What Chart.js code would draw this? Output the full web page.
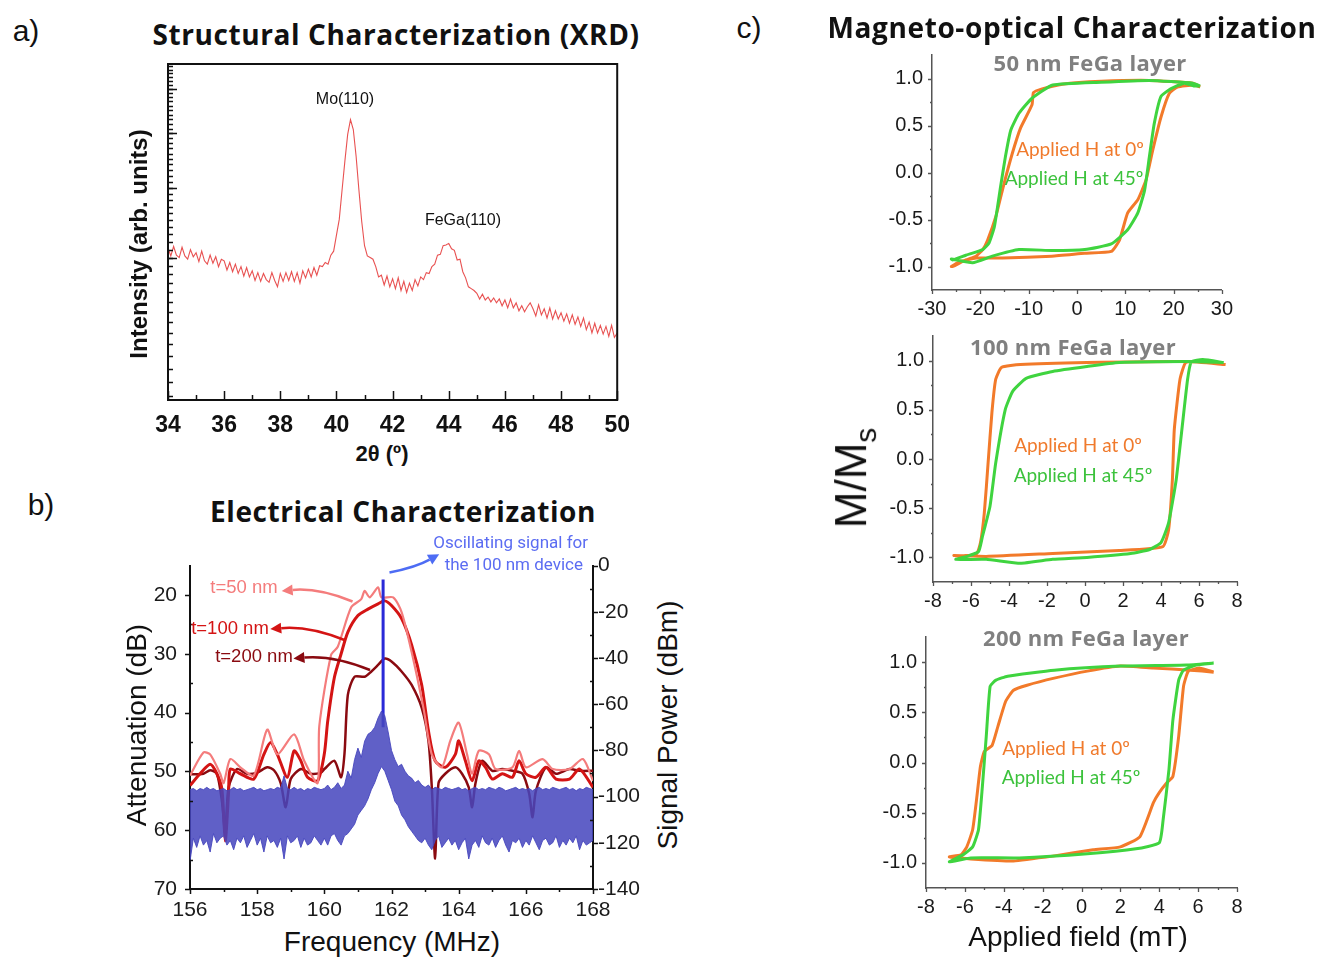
<!DOCTYPE html>
<html>
<head>
<meta charset="utf-8">
<title>FeGa characterization</title>
<script src="https://cdn.jsdelivr.net/npm/chart.js@4.4.1/dist/chart.umd.min.js"></script>
<style>
  body { margin: 0; background: #fff; }
  #fig { position: relative; width: 1320px; height: 957px; overflow: hidden; font-family: "Liberation Sans", Arial, sans-serif; color: #111; }
  #fig canvas { position: absolute; }
  .t { position: absolute; white-space: nowrap; transform: translate(-50%, -50%); line-height: 1; }
  .r { transform: translate(-100%, -50%); }
  .rot { transform: translate(-50%, -50%) rotate(-90deg); }
  .panel { font-size: 30px; }
  .head { font-family: "Open Sans", sans-serif; font-weight: 700; font-size: 28px; letter-spacing: 0.6px; }
  .sub { font-family: "Open Sans", sans-serif; font-weight: 700; font-size: 22px; letter-spacing: 0.3px; color: #808080; }
  .ax { font-size: 28px; }
  .bx { font-size: 22px; font-weight: 700; }
  .ann { font-size: 16px; }
  .tlab { font-size: 18.5px; }
  .narrow { font-family: "Liberation Sans Narrow", "Roboto", sans-serif; font-size: 17px; color: #5b6cf2; }
  .h0 { font-family: "Lato", sans-serif; font-size: 19px; color: #f07a2c; }
  .h45 { font-family: "Lato", sans-serif; font-size: 19px; color: #3cc23c; }
</style>
</head>
<body>
<div id="fig">
  <canvas id="xrd" width="514" height="386" style="left:128px; top:54px"></canvas>
  <canvas id="elec" width="508" height="384" style="left:140px; top:540px"></canvas>
  <canvas id="moke50" width="358" height="286" style="left:882px; top:34px"></canvas>
  <canvas id="moke100" width="369" height="297" style="left:883px; top:315px"></canvas>
  <canvas id="moke200" width="376" height="302" style="left:876px; top:616px"></canvas>

  <div class="t panel" style="left:26px; top:31px">a)</div>
  <div class="t panel" style="left:41px; top:505px">b)</div>
  <div class="t panel" style="left:749px; top:28px">c)</div>

  <div class="t head" style="left:396px; top:34px">Structural Characterization (XRD)</div>
  <div class="t ann" style="left:345px; top:99px">Mo(110)</div>
  <div class="t ann" style="left:463px; top:220px">FeGa(110)</div>
  <div class="t bx" style="left:382px; top:454px">2θ (º)</div>
  <div class="t bx rot" style="left:139px; top:244px; font-size:24px">Intensity (arb. units)</div>

  <div class="t head" style="left:403px; top:511px">Electrical Characterization</div>
  <div class="t narrow r" style="left:588px; top:542px">Oscillating signal for</div>
  <div class="t narrow r" style="left:583px; top:564px">the 100 nm device</div>
  <div class="t tlab" style="left:244px; top:587px; color:#f47c7c">t=50 nm</div>
  <div class="t tlab" style="left:230px; top:628px; color:#d41414">t=100 nm</div>
  <div class="t tlab" style="left:254px; top:656px; color:#8a0a10">t=200 nm</div>
  <div class="t ax rot" style="left:137px; top:725px">Attenuation (dB)</div>
  <div class="t ax rot" style="left:668px; top:725px">Signal Power (dBm)</div>
  <div class="t ax" style="left:392px; top:942px">Frequency (MHz)</div>

  <div class="t head" style="left:1072px; top:27px">Magneto-optical Characterization</div>
  <div class="t sub" style="left:1090px; top:62px">50 nm FeGa layer</div>
  <div class="t sub" style="left:1073px; top:346px">100 nm FeGa layer</div>
  <div class="t sub" style="left:1086px; top:637px">200 nm FeGa layer</div>
  <div class="t h0" style="left:1080px; top:148px">Applied H at 0º</div>
  <div class="t h45" style="left:1074px; top:177px">Applied H at 45º</div>
  <div class="t h0" style="left:1078px; top:444px">Applied H at 0º</div>
  <div class="t h45" style="left:1083px; top:474px">Applied H at 45º</div>
  <div class="t h0" style="left:1066px; top:747px">Applied H at 0º</div>
  <div class="t h45" style="left:1071px; top:776px">Applied H at 45º</div>
  <div class="t rot" style="left:855px; top:478px; font-size:44px">M/M<sub style="font-size:30px">s</sub></div>
  <div class="t ax" style="left:1078px; top:937px">Applied field (mT)</div>
</div>

<script>
// ---- a) XRD scan ----
const XRD_ANGLE_START = 34;
const XRD_ANGLE_STEP = 0.1;
const XRD_COUNTS = [
  31.2, 30.2, 31.4, 30.3, 30.0, 31.3, 30.2, 29.8, 31.0, 30.1,
  30.6, 29.5, 30.8, 29.6, 29.2, 30.3, 29.3, 30.1, 28.9, 29.8,
  29.6, 28.5, 29.4, 28.3, 29.2, 28.1, 28.9, 27.8, 28.8, 27.7,
  28.4, 27.3, 28.2, 27.2, 28.1, 27.4, 27.1, 28.2, 27.3, 26.6,
  28.1, 27.2, 28.2, 27.3, 28.3, 27.2, 28.2, 27.0, 28.4, 27.6,
  28.6, 27.7, 28.8, 27.9, 29.0, 28.9, 29.4, 29.2, 30.3, 30.8,
  32.9, 35.1, 39.6, 44.6, 49.8, 52.9, 50.8, 45.5, 39.6, 34.8,
  31.5, 30.2, 30.0, 29.8, 28.9, 27.7, 27.9, 26.8, 27.8, 26.6,
  27.5, 26.4, 27.6, 26.2, 27.2, 26.0, 27.0, 26.2, 27.4, 26.7,
  27.7, 27.4, 28.2, 28.1, 28.9, 29.2, 30.3, 30.4, 31.5, 31.6,
  31.8, 31.1, 30.9, 29.7, 29.8, 28.3, 27.6, 26.6, 26.4, 26.2,
  25.9, 25.3, 25.8, 25.2, 25.5, 25.0, 25.4, 24.9, 25.3, 24.6,
  25.2, 24.4, 25.3, 24.4, 24.9, 24.1, 24.6, 24.0, 24.5, 24.9,
  24.3, 23.6, 24.7, 23.7, 24.3, 23.4, 24.4, 23.3, 24.1, 23.3,
  23.9, 23.1, 23.8, 22.9, 23.7, 22.8, 23.5, 22.6, 23.4, 22.3,
  23.0, 22.0, 22.9, 22.0, 22.7, 21.9, 22.6, 21.7, 22.7, 21.6,
  22.0
];
const XRD_ANGLE_TICKS = [34, 36, 38, 40, 42, 44, 46, 48, 50];
const XRD_ANGLE_MINOR = [35, 37, 39, 41, 43, 45, 47, 49];

// ---- b) transmission and spectrum ----
const FREQ_TICKS = [156, 158, 160, 162, 164, 166, 168];
const FREQ_MINOR = [157, 159, 161, 163, 165, 167];
const ATT_TICKS = [20, 30, 40, 50, 60, 70];
const ATT_MINOR = [25, 35, 45, 55, 65];
const PWR_TICKS = [0, -20, -40, -60, -80, -100, -120, -140];
const PWR_MINOR = [-10, -30, -50, -70, -90, -110, -130];

const T50_FREQ = [156.0, 156.4, 156.6, 156.9, 157.0, 157.2, 157.5, 157.9, 158.3, 158.6, 159.1, 159.4, 159.8, 159.85, 160.2, 160.4, 160.8, 161.1, 161.2, 161.35, 161.6, 161.7, 162.05, 162.3, 162.6, 162.95, 163.2, 163.5, 163.75, 164.0, 164.25, 164.4, 164.6, 164.9, 165.1, 165.6, 165.8, 166.0, 166.5, 166.8, 167.3, 167.7, 168.0];
const T50_ATT = [50.7, 46.8, 47.1, 50.4, 52.0, 47.9, 49.3, 50.7, 42.9, 47.1, 43.7, 48.2, 52.0, 42.3, 30.2, 28.8, 22.1, 20.7, 19.3, 20.4, 18.7, 20.4, 20.4, 22.9, 29.7, 39.2, 47.1, 49.3, 44.8, 41.7, 47.1, 50.4, 46.5, 47.1, 49.6, 49.3, 46.5, 49.3, 47.9, 49.6, 49.6, 47.9, 51.6];

const T100_FREQ = [156.0, 156.3, 156.6, 156.8, 156.95, 157.05, 157.15, 157.2, 157.5, 157.9, 158.2, 158.4, 158.6, 158.9, 159.1, 159.3, 159.5, 159.8, 160.0, 160.1, 160.3, 160.5, 160.7, 161.0, 161.3, 161.6, 161.8, 162.0, 162.3, 162.6, 162.9, 163.1, 163.3, 163.6, 163.9, 164.0, 164.2, 164.4, 164.6, 164.8, 165.0, 165.3, 165.6, 165.8, 166.0, 166.3, 166.6, 166.9, 167.3, 167.6, 168.0];
const T100_ATT = [52.4, 50.4, 48.8, 50.4, 53.0, 61.8, 53.5, 49.6, 50.4, 51.3, 47.1, 45.1, 47.1, 51.0, 46.5, 48.2, 51.0, 51.6, 47.0, 41.5, 34.0, 30.0, 26.3, 23.5, 22.4, 21.5, 21.0, 21.8, 24.0, 28.5, 35.3, 43.1, 48.2, 49.3, 47.1, 44.8, 48.2, 51.6, 48.2, 49.3, 51.3, 50.4, 51.0, 48.2, 50.4, 51.0, 49.3, 51.3, 51.3, 49.6, 52.7];

const T200_FREQ = [156.0, 156.4, 156.6, 156.8, 156.95, 157.05, 157.15, 157.4, 157.7, 158.0, 158.3, 158.5, 158.7, 158.85, 159.0, 159.3, 159.6, 159.9, 160.0, 160.3, 160.5, 160.6, 160.7, 160.9, 161.2, 161.4, 161.6, 161.8, 162.0, 162.3, 162.6, 162.9, 163.1, 163.2, 163.3, 163.4, 163.6, 163.9, 164.1, 164.3, 164.4, 164.5, 164.7, 165.0, 165.3, 165.6, 165.9, 166.1, 166.2, 166.3, 166.6, 166.9, 167.3, 167.6, 168.0];
const T200_ATT = [50.5, 50.4, 49.8, 50.4, 55.0, 60.5, 52.7, 49.6, 50.4, 50.2, 49.3, 49.8, 52.0, 56.1, 51.3, 49.6, 50.4, 50.2, 49.6, 48.2, 51.0, 47.0, 37.0, 33.9, 33.9, 33.0, 31.9, 30.8, 31.3, 33.0, 35.3, 39.2, 44.8, 52.7, 64.8, 52.0, 50.4, 49.3, 50.4, 52.7, 56.1, 52.0, 48.2, 49.9, 49.6, 49.9, 50.4, 53.8, 57.8, 53.3, 49.3, 50.4, 49.6, 49.9, 49.9];

// spectrum analyser trace, drawn as its upper and lower noise envelopes (dBm)
const SPEC_START = 156;
const SPEC_STEP = 0.1;
const SPEC_TOP = [
  -97, -96.5, -97.5, -96.5, -97, -96, -97, -96.5, -97.5, -97,
  -96.5, -97.5, -97, -96, -97, -96.5, -97.5, -97, -96.5, -96,
  -97, -96.5, -97.5, -97, -96.5, -97, -96, -96.5, -91, -96.5,
  -97, -96, -97, -96.5, -97.5, -96.5, -97, -96, -96.5, -97,
  -96.5, -95, -97, -96, -94, -96.5, -95, -89, -92, -84,
  -79, -83, -76, -73, -72, -70, -66, -63, -65, -72,
  -80, -84, -87, -86, -89, -91, -92, -94, -93, -95,
  -96, -95, -97, -96, -96.5, -97, -96, -96.5, -97, -96.5,
  -96, -97, -96.5, -97.5, -96.5, -96, -97, -96.5, -97, -96,
  -96.5, -97, -96, -96.5, -97.5, -97, -96.5, -96, -97, -96.5,
  -97, -96.5, -97.5, -96.5, -96, -97, -96.5, -97, -96, -96.5,
  -97, -96.5, -96, -97, -96.5, -97.5, -96.5, -97, -96, -96.5,
  -97
];
const SPEC_BOTTOM = [
  -128, -118, -122, -117, -121, -119, -124, -116, -120, -118,
  -117, -121, -119, -123, -118, -120, -117, -122, -119, -116,
  -121, -118, -124, -117, -120, -119, -122, -118, -127, -117,
  -120, -119, -117, -122, -118, -121, -120, -117, -119, -121,
  -118, -121, -117, -116, -119, -121, -117, -116, -114, -112,
  -108, -106, -104, -101, -97, -94, -90, -87, -89, -93,
  -97, -102, -104, -108, -110, -113, -115, -117, -119, -120,
  -118, -121, -123, -119, -117, -122, -120, -118, -121, -119,
  -123, -120, -118, -127, -121, -119, -122, -117, -120, -121,
  -118, -122, -119, -117, -121, -124, -119, -120, -118, -122,
  -119, -121, -117, -120, -123, -119, -118, -121, -120, -117,
  -122, -119, -121, -118, -120, -117, -123, -119, -121, -120,
  -119
];
const OSC_FREQ = 161.75;
const OSC_PWR = [-70, -6];

// ---- c) MOKE loops: [field mT, M/Ms] ----
const M_TICKS = [-1, -0.5, 0, 0.5, 1];
const M_MINOR = [-0.75, -0.25, 0.25, 0.75];
const H_TICKS_WIDE = [-30, -20, -10, 0, 10, 20, 30];
const H_MINOR_WIDE = [-25, -15, -5, 5, 15, 25];
const H_TICKS_NARROW = [-8, -6, -4, -2, 0, 2, 4, 6, 8];
const H_MINOR_NARROW = [-7, -5, -3, -1, 1, 3, 5, 7];

const LOOP50_0DEG = [[25.5,0.91],[24,0.95],[15,0.98],[5,0.97],[-3,0.94],[-7.2,0.89],[-9,0.85],[-9.3,0.72],[-11.7,0.47],[-13.4,0.20],[-15.1,-0.12],[-16.8,-0.47],[-18.5,-0.72],[-19.5,-0.82],[-20.9,-0.89],[-23,-0.93],[-25.7,-1.0],[-26,-1.0],[-24.3,-0.95],[-20.9,-0.91],[-15.4,-0.91],[-5.2,-0.89],[1.6,-0.86],[7.1,-0.84],[8.8,-0.72],[10.5,-0.43],[12.6,-0.29],[14.3,-0.08],[15.7,0.24],[17.4,0.59],[19.1,0.84],[20.8,0.91],[24.2,0.93],[25.5,0.91]];
const LOOP50_45DEG = [[25.5,0.92],[24,0.95],[15,0.98],[5,0.96],[-5,0.93],[-9.3,0.79],[-12,0.63],[-13.7,0.45],[-14.8,0.17],[-15.8,-0.15],[-17.1,-0.58],[-18.2,-0.75],[-19.5,-0.82],[-23,-0.88],[-25.7,-0.93],[-26,-0.92],[-21.6,-0.96],[-17.5,-0.89],[-12,-0.82],[-5.2,-0.83],[1.6,-0.82],[7.1,-0.76],[10.5,-0.61],[12.6,-0.43],[14,-0.19],[15,0.17],[16,0.52],[17.4,0.81],[19.4,0.89],[22.2,0.95],[24.2,0.92],[25.5,0.92]];
const LOOP100_0DEG = [[7.4,0.96],[5.4,0.99],[0.1,0.98],[-3.4,0.96],[-4.4,0.93],[-4.7,0.81],[-4.9,0.47],[-5.1,-0.04],[-5.3,-0.55],[-5.5,-0.85],[-5.7,-0.96],[-6.6,-0.99],[-6.9,-0.98],[-5.2,-0.99],[-1.7,-0.96],[1.8,-0.93],[4.1,-0.89],[4.4,-0.72],[4.6,-0.21],[4.7,0.30],[5.0,0.81],[5.3,0.98],[6.2,0.99],[7.4,0.96]];
const LOOP100_45DEG = [[7.3,0.98],[5.4,0.99],[1.8,0.98],[0.1,0.94],[-1.7,0.89],[-3.1,0.82],[-3.8,0.69],[-4.2,0.50],[-4.7,-0.04],[-5.0,-0.48],[-5.4,-0.79],[-5.6,-0.94],[-6.2,-0.99],[-6.8,-1.02],[-5.2,-1.02],[-3.4,-1.06],[-1.7,-1.02],[0.1,-1.0],[2.4,-0.96],[3.4,-0.92],[4.0,-0.85],[4.4,-0.65],[4.8,-0.21],[5.1,0.30],[5.4,0.81],[5.6,0.99],[6.2,1.01],[7.3,0.98]];
const LOOP200_0DEG = [[6.8,0.90],[5.6,0.92],[3.7,0.94],[2.0,0.96],[0.3,0.91],[-1.4,0.84],[-2.8,0.77],[-3.5,0.72],[-3.9,0.61],[-4.3,0.36],[-4.6,0.17],[-5.0,0.11],[-5.2,-0.04],[-5.4,-0.37],[-5.6,-0.67],[-5.9,-0.84],[-6.2,-0.92],[-6.8,-0.94],[-5.7,-0.96],[-3.5,-0.98],[-1.4,-0.93],[0.6,-0.87],[2.0,-0.84],[3.0,-0.74],[3.7,-0.40],[4.0,-0.30],[4.4,-0.20],[4.7,-0.14],[5.0,0.26],[5.25,0.76],[5.5,0.91],[6.1,0.94],[6.8,0.90]];
const LOOP200_45DEG = [[6.8,0.99],[5.4,0.97],[2.0,0.96],[-1.4,0.92],[-3.8,0.86],[-4.4,0.82],[-4.7,0.76],[-4.9,0.26],[-5.1,-0.24],[-5.3,-0.67],[-5.6,-0.84],[-6.1,-0.92],[-6.8,-0.99],[-5.7,-0.95],[-3.2,-0.95],[0.3,-0.91],[2.8,-0.86],[4.0,-0.80],[4.2,-0.57],[4.5,-0.07],[4.7,0.42],[5.0,0.82],[5.25,0.92],[5.9,0.97],[6.8,0.99]];

const ORANGE = '#f27a2a';
const GREEN = '#3fd43f';

Chart.defaults.font.family = '"Liberation Sans", Arial, sans-serif';
Chart.defaults.color = '#1a1a1a';
Chart.defaults.animation = false;

// short tick marks drawn by hand so major/minor lengths and direction can differ
const tickMarks = {
  id: 'tickMarks',
  afterDraw(chart, args, opts) {
    const ctx = chart.ctx;
    ctx.save();
    ctx.strokeStyle = opts.color || '#111';
    ctx.lineWidth = opts.width || 1.5;
    (opts.sets || []).forEach(set => {
      const s = chart.scales[set.scale];
      ctx.beginPath();
      set.values.forEach(v => {
        const p = Math.round(s.getPixelForValue(v)) + 0.5;
        if (s.isHorizontal()) {
          ctx.moveTo(p, s.top); ctx.lineTo(p, s.top + set.len);
        } else {
          const x = s.position === 'left' ? s.right : s.left;
          ctx.moveTo(x, p); ctx.lineTo(x + set.len, p);
        }
      });
      ctx.stroke();
    });
    ctx.restore();
  }
};

const frameBox = {
  id: 'frameBox',
  afterDraw(chart) {
    const a = chart.chartArea, ctx = chart.ctx;
    ctx.save();
    ctx.strokeStyle = '#111';
    ctx.lineWidth = 2;
    ctx.strokeRect(a.left, a.top, a.right - a.left, a.bottom - a.top);
    ctx.restore();
  }
};

// curved annotation arrows, ends given in data units
const arrows = {
  id: 'arrows',
  afterDatasetsDraw(chart, args, opts) {
    const ctx = chart.ctx, xs = chart.scales.x;
    (opts.items || []).forEach(a => {
      const ys = chart.scales[a.axis];
      const x0 = xs.getPixelForValue(a.from[0]), y0 = ys.getPixelForValue(a.from[1]);
      const x1 = xs.getPixelForValue(a.to[0]), y1 = ys.getPixelForValue(a.to[1]);
      const cx = (x0 + x1) / 2 - (y1 - y0) * a.bend;
      const cy = (y0 + y1) / 2 + (x1 - x0) * a.bend;
      const ang = Math.atan2(y1 - cy, x1 - cx);
      const L = 11, W = 5.5;
      const bx = x1 - Math.cos(ang) * L, by = y1 - Math.sin(ang) * L;
      ctx.save();
      ctx.strokeStyle = a.color; ctx.fillStyle = a.color; ctx.lineWidth = 2.5;
      ctx.beginPath(); ctx.moveTo(x0, y0); ctx.quadraticCurveTo(cx, cy, bx, by); ctx.stroke();
      ctx.beginPath();
      ctx.moveTo(x1, y1);
      ctx.lineTo(bx - Math.sin(ang) * W, by + Math.cos(ang) * W);
      ctx.lineTo(bx + Math.sin(ang) * W, by - Math.cos(ang) * W);
      ctx.closePath(); ctx.fill();
      ctx.restore();
    });
  }
};

const pts = (xs, ys) => xs.map((x, i) => ({ x: x, y: ys[i] }));
const stepped = (start, step, ys) => ys.map((y, i) => ({ x: +(start + i * step).toFixed(2), y: y }));
const pairs = arr => arr.map(p => ({ x: p[0], y: p[1] }));
const fixTicks = list => s => { s.ticks = list.map(v => ({ value: v })); };
const noGrid = { display: false, drawTicks: false };

function drawXrd(el) {
  new Chart(el, {
    type: 'line',
    data: {
      datasets: [{
        data: stepped(XRD_ANGLE_START, XRD_ANGLE_STEP, XRD_COUNTS),
        borderColor: 'rgba(228,50,50,0.85)',
        borderWidth: 1.1,
        pointRadius: 0,
        tension: 0
      }]
    },
    options: {
      responsive: false,
      devicePixelRatio: 1,
      events: [],
      layout: { padding: { top: 10, right: 15 } },
      plugins: {
        legend: { display: false },
        tooltip: { enabled: false },
        tickMarks: {
          width: 1.5,
          sets: [
            { scale: 'x', values: XRD_ANGLE_TICKS, len: -9 },
            { scale: 'x', values: XRD_ANGLE_MINOR, len: -5 },
            { scale: 'y', values: Array.from({ length: 50 }, (_, i) => 17 + i), len: 5 },
            { scale: 'y', values: [30, 40, 50, 60], len: 9 }
          ]
        }
      },
      scales: {
        x: {
          type: 'linear', min: 34, max: 50,
          afterBuildTicks: fixTicks(XRD_ANGLE_TICKS),
          afterFit: s => { s.height = 40; },
          grid: noGrid,
          border: { display: true, color: '#111', width: 2 },
          ticks: { font: { size: 23, weight: 'bold' }, color: '#111', padding: 12, maxRotation: 0 }
        },
        y: {
          type: 'logarithmic', min: 16.7, max: 66.5,
          afterFit: s => { s.width = 40; },
          grid: noGrid,
          border: { display: true, color: '#111', width: 2 },
          ticks: { display: false }
        }
      }
    },
    plugins: [tickMarks, frameBox]
  });
}

function drawElectrical(el) {
  const redLine = (f, a, color, w) => ({
    data: pts(f, a), yAxisID: 'y', borderColor: color, borderWidth: w,
    pointRadius: 0, tension: 0.25, fill: false, order: 1
  });
  new Chart(el, {
    type: 'line',
    data: {
      datasets: [
        { data: stepped(SPEC_START, SPEC_STEP, SPEC_TOP), yAxisID: 'y2', borderColor: 'rgba(70,70,190,0.9)', borderWidth: 1,
          backgroundColor: 'rgba(70,70,190,0.86)', fill: '+1', pointRadius: 0, tension: 0, order: 0 },
        { data: stepped(SPEC_START, SPEC_STEP, SPEC_BOTTOM), yAxisID: 'y2', borderColor: 'rgba(70,70,190,0.9)', borderWidth: 1,
          fill: false, pointRadius: 0, tension: 0, order: 0 },
        { data: OSC_PWR.map(p => ({ x: OSC_FREQ, y: p })), yAxisID: 'y2', borderColor: '#2a2ad8', borderWidth: 3,
          fill: false, pointRadius: 0, order: 0 },
        redLine(T50_FREQ, T50_ATT, '#f47c7c', 2.2),
        redLine(T100_FREQ, T100_ATT, '#d41414', 3),
        redLine(T200_FREQ, T200_ATT, '#8a0a10', 2.5)
      ]
    },
    options: {
      responsive: false,
      devicePixelRatio: 1,
      events: [],
      layout: { padding: { top: 23 } },
      plugins: {
        legend: { display: false },
        tooltip: { enabled: false },
        tickMarks: {
          width: 1.5,
          sets: [
            { scale: 'x', values: FREQ_TICKS, len: 5 },
            { scale: 'x', values: FREQ_MINOR, len: 3 },
            { scale: 'y', values: ATT_TICKS, len: -5 },
            { scale: 'y', values: ATT_MINOR, len: 3 },
            { scale: 'y2', values: PWR_TICKS, len: 5 },
            { scale: 'y2', values: PWR_MINOR, len: -3 }
          ]
        },
        arrows: {
          items: [
            { axis: 'y', from: [160.84, 21.1], to: [158.73, 19.3], color: '#f47c7c', bend: 0.12 },
            { axis: 'y', from: [160.62, 27.7], to: [158.39, 25.8], color: '#d41414', bend: 0.12 },
            { axis: 'y', from: [161.36, 32.75], to: [159.08, 30.8], color: '#8a0a10', bend: 0.12 },
            { axis: 'y2', from: [161.94, -3.0], to: [163.42, 4.9], color: '#4d6cf4', bend: 0.08 }
          ]
        }
      },
      scales: {
        x: {
          type: 'linear', min: 156, max: 168,
          afterBuildTicks: fixTicks(FREQ_TICKS),
          afterFit: s => { s.height = 35; },
          grid: noGrid,
          border: { display: true, color: '#111', width: 2 },
          ticks: { font: { size: 21 }, color: '#1a1a1a', padding: 9, maxRotation: 0 }
        },
        y: {
          position: 'left', reverse: true, min: 15, max: 70,
          afterBuildTicks: fixTicks(ATT_TICKS),
          afterFit: s => { s.width = 50; },
          grid: noGrid,
          border: { display: true, color: '#111', width: 2 },
          ticks: { font: { size: 21 }, color: '#1a1a1a', padding: 13 }
        },
        y2: {
          position: 'right', min: -140, max: 0,
          afterBuildTicks: fixTicks(PWR_TICKS),
          afterFit: s => { s.width = 55; },
          grid: noGrid,
          border: { display: true, color: '#111', width: 2 },
          ticks: { font: { size: 21 }, color: '#1a1a1a', padding: 5 }
        }
      }
    },
    plugins: [tickMarks, arrows]
  });
}

function drawLoops(el, loop0, loop45, hMin, hMax, hTicks, hMinor) {
  const loop = (arr, color) => ({
    data: pairs(arr), showLine: true, borderColor: color, borderWidth: 3,
    pointRadius: 0, tension: 0.15, fill: false
  });
  new Chart(el, {
    type: 'scatter',
    data: { datasets: [loop(loop45, GREEN), loop(loop0, ORANGE)] },
    options: {
      responsive: false,
      devicePixelRatio: 1,
      events: [],
      layout: { padding: { top: 10, right: 15 } },
      plugins: {
        legend: { display: false },
        tooltip: { enabled: false },
        tickMarks: {
          color: '#555', width: 1.3,
          sets: [
            { scale: 'x', values: hTicks, len: 4 },
            { scale: 'x', values: hMinor, len: 2 },
            { scale: 'y', values: M_TICKS, len: -4 },
            { scale: 'y', values: M_MINOR, len: -2 }
          ]
        }
      },
      scales: {
        x: {
          type: 'linear', min: hMin, max: hMax,
          afterBuildTicks: fixTicks(hTicks),
          afterFit: s => { s.height = 30; },
          grid: noGrid,
          border: { display: true, color: '#555', width: 1.5 },
          ticks: { font: { size: 20 }, color: '#1a1a1a', padding: 7, maxRotation: 0 }
        },
        y: {
          type: 'linear', min: -1.25, max: 1.25,
          afterBuildTicks: fixTicks(M_TICKS),
          afterFit: s => { s.width = 50; },
          grid: noGrid,
          border: { display: true, color: '#555', width: 1.5 },
          ticks: { font: { size: 20 }, color: '#1a1a1a', padding: 9, callback: v => Number(v).toFixed(1) }
        }
      }
    },
    plugins: [tickMarks]
  });
}

drawXrd(document.getElementById('xrd'));
drawElectrical(document.getElementById('elec'));
drawLoops(document.getElementById('moke50'), LOOP50_0DEG, LOOP50_45DEG, -30, 30, H_TICKS_WIDE, H_MINOR_WIDE);
drawLoops(document.getElementById('moke100'), LOOP100_0DEG, LOOP100_45DEG, -8, 8, H_TICKS_NARROW, H_MINOR_NARROW);
drawLoops(document.getElementById('moke200'), LOOP200_0DEG, LOOP200_45DEG, -8, 8, H_TICKS_NARROW, H_MINOR_NARROW);
</script>
</body>
</html>
